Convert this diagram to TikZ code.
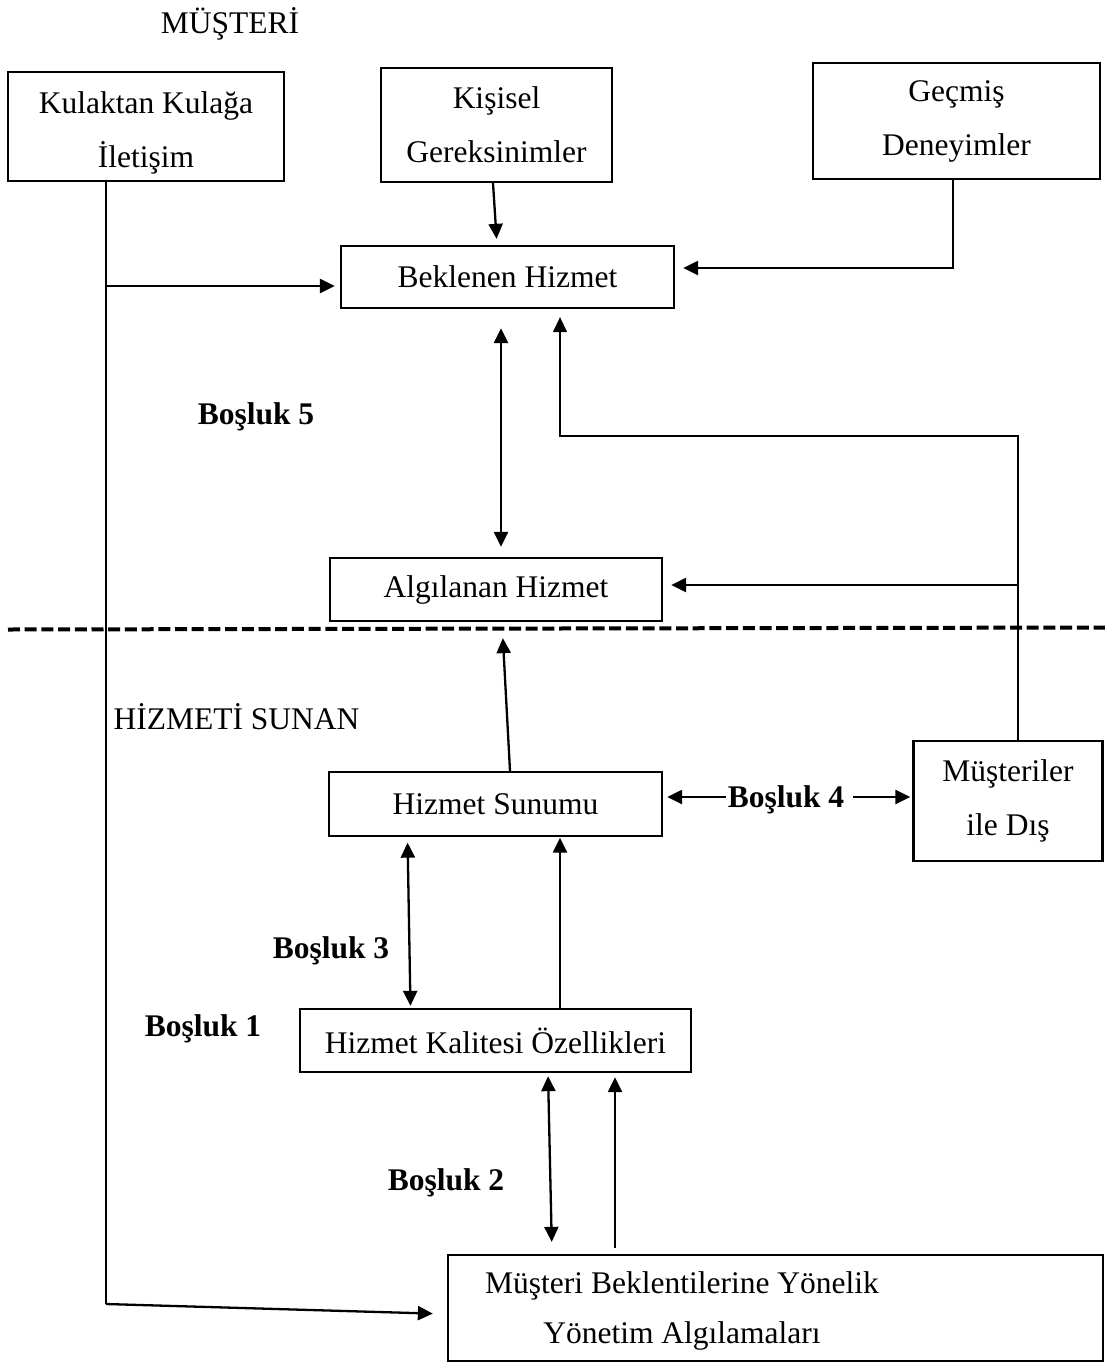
\documentclass[tikz,border=0pt]{standalone}
\usepackage{fontspec}
\setmainfont{Liberation Serif}
\usetikzlibrary{arrows.meta}
\begin{document}
\begin{tikzpicture}[x=1pt,y=-1pt,
  every node/.style={font=\fontsize{31.5pt}{54pt}\selectfont},
  box/.style={draw, line width=2.3pt, align=center, inner sep=0pt},
  lbl/.style={inner sep=0pt, anchor=base},
  blbl/.style={lbl, font=\fontsize{31.5pt}{54pt}\selectfont\bfseries},
  arr/.style={line width=2.3pt, -{Triangle[length=15pt,width=14pt]}},
  darr/.style={line width=2.3pt, {Triangle[length=15pt,width=14pt]}-{Triangle[length=15pt,width=14pt]}},
  tarr/.style={line width=1.3pt, -{Triangle[length=15pt,width=14pt]}},
  thinline/.style={line width=1.3pt},
]
\useasboundingbox (0,0) rectangle (1105,1363);

% labels
\node[lbl] (mus) at (230,33) {MÜŞTERİ};
\node[blbl] (b5) at (256,424) {Boşluk 5};
\node[lbl] (hs) at (236.5,729) {HİZMETİ SUNAN};
\node[blbl] (b3) at (331,958) {Boşluk 3};
\node[blbl] (b1) at (203,1036) {Boşluk 1};
\node[blbl] (b2) at (446,1190) {Boşluk 2};
\node[blbl] (b4) at (786,807) {Boşluk 4};

% boxes
\node[box, minimum width=276pt, minimum height=109pt] (kulak) at (146,126.5) {};
\node[align=center, inner sep=0pt] (kulaktext) at (146,132.5) {Kulaktan Kulağa\\İletişim};
\node[box, minimum width=231pt, minimum height=114pt] (kisisel) at (496.5,125) {Kişisel\\Gereksinimler};
\node[box, minimum width=287pt, minimum height=116pt] (gecmis) at (956.5,121) {Geçmiş\\Deneyimler};
\node[box, minimum width=333pt, minimum height=62pt] (beklenen) at (507.5,277) {Beklenen Hizmet};
\node[box, minimum width=332pt, minimum height=63pt] (algilanan) at (496,589.5) {Algılanan Hizmet};
\node[box, minimum width=333pt, minimum height=64pt] (sunum) at (495.5,804) {Hizmet Sunumu};
\node[box, minimum width=189pt, minimum height=120pt] (disk) at (1008,801) {Müşteriler\\ile Dış};
\node[box, minimum width=391pt, minimum height=63pt] (kalite) at (495.5,1040.5) {Hizmet Kalitesi Özellikleri};
\node[box, minimum width=655pt, minimum height=106pt] (yonbox) at (775.5,1308) {};
\node[align=center, inner sep=0pt, font=\fontsize{31.5pt}{50pt}\selectfont] (yontext) at (682,1311) {Müşteri Beklentilerine Yönelik\\Yönetim Algılamaları};

% dashed divider
\draw[line width=4pt, dash pattern=on 12pt off 4.7pt] (8,629.5) -- (1105,627.5);

% connectors
\coordinate (k1) at (106,286);
\coordinate (k2) at (106,1304);
\draw[arr, shorten >=5pt] (kulak.south -| k1) -- (k1) -- (k1 -| beklenen.west);
\draw[thinline] (k1) -- (k2);
\draw[arr, shorten >=14pt] (k2) -- ([yshift=-6pt]yonbox.west);

\draw[arr, shorten >=6pt] ([xshift=-3.5pt]kisisel.south) -- ([xshift=-10.5pt]beklenen.north);
\draw[arr, shorten >=8pt] ([xshift=-3.5pt]gecmis.south) |- ([yshift=9pt]beklenen.east);

\draw[darr, shorten <=19pt, shorten >=10pt] ([xshift=-6.5pt]beklenen.south) -- ([xshift=5pt]algilanan.north);

\coordinate (c1) at (560,436);
\draw[tarr, shorten >=8pt] ([xshift=10pt]disk.north) |- (c1) -- (c1 |- beklenen.south);
\coordinate (c2) at (1018,585);
\draw[arr, shorten >=8pt] (c2) -- (c2 -| algilanan.east);

\draw[arr, shorten >=16pt] ([xshift=14.5pt]sunum.north) -- ([xshift=6pt]algilanan.south);

\coordinate (b4l) at ([xshift=-2pt,yshift=10pt]b4.base west);
\coordinate (b4r) at ([xshift=9pt,yshift=10pt]b4.base east);
\draw[arr, shorten >=4pt] (b4l) -- (b4l -| sunum.east);
\draw[arr, shorten >=2pt] (b4r) -- (b4r -| disk.west);

\draw[darr, shorten <=5.5pt, shorten >=2pt] ([xshift=-88pt]sunum.south) -- ([xshift=-85pt]kalite.north);
\draw[arr, shorten >=0.5pt] ([xshift=64.5pt]kalite.north) -- ([xshift=64.5pt]sunum.south);

\draw[darr, shorten <=3pt, shorten >=12pt] ([xshift=52.5pt]kalite.south) -- ([xshift=-223.5pt]yonbox.north);
\draw[arr, shorten <=6pt, shorten >=4pt] ([xshift=-160.5pt]yonbox.north) -- ([xshift=119.5pt]kalite.south);
\end{tikzpicture}
\end{document}
